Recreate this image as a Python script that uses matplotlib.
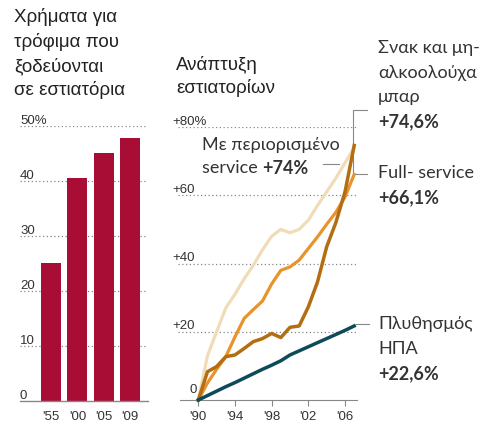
import matplotlib
matplotlib.use("Agg")
import matplotlib.pyplot as plt

# ---- data ----
bar_labels = ["'55", "'00", "'05", "'09"]
bar_values = [25.1, 40.5, 45.1, 47.8]
bar_yticks = [0, 10, 20, 30, 40, 50]
bar_ytick_labels = ["0", "10", "20", "30", "40", "50%"]

years = list(range(1990, 2008))
limited_service = [0, 13, 20, 27, 31, 35.5, 39.5, 44, 48, 50, 49, 50, 52.7, 57, 61, 65, 69.5, 74]
full_service = [0, 5, 9, 12.7, 18.5, 23.9, 26.5, 29, 34, 38, 39, 41, 44.4, 47.8, 51.5, 55, 59.5, 66.1]
snack_bars = [0, 8.3, 9.8, 12.7, 13.2, 15.1, 17.1, 18, 19.5, 18.3, 21.3, 21.7, 27.3, 34.6, 44.9, 52, 61, 74.6]
population = [0, 1.3, 2.6, 3.9, 5.1, 6.4, 7.7, 9.0, 10.2, 11.5, 13.2, 14.4, 15.6, 16.8, 18.0, 19.2, 20.4, 21.7]
line_xticks = [1990, 1994, 1998, 2002, 2006]
line_xtick_labels = ["'90", "'94", "'98", "'02", "'06"]
line_yticks = [0, 20, 40, 60, 80]
line_ytick_labels = ["0", "+20", "+40", "+60", "+80%"]

W, H = 492, 423
fig = plt.figure(figsize=(W / 100, H / 100), dpi=100)
fig.patch.set_facecolor("white")

FONT = ["Lato", "DejaVu Sans"]
TICKFONT = ["Liberation Sans", "DejaVu Sans"]
TXT = "#333333"
GRID = "#888888"
TS = 9.5

def fx(px):
    return px / W

def fy(py):
    return 1 - py / H

# ---- left bar chart ----
axL = fig.add_axes([fx(20), fy(401), (148 - 20) / W, (401 - 126) / H])
axL.bar(range(len(bar_values)), bar_values, width=0.76, color="#A80D35")
axL.set_xlim(-1.18, 3.68)
axL.set_ylim(0, 50)
for s in ["top", "right", "left"]:
    axL.spines[s].set_visible(False)
axL.spines["bottom"].set_color(GRID)
axL.spines["bottom"].set_linewidth(1.0)
axL.set_yticks([])
axL.set_xticks(range(len(bar_labels)))
axL.set_xticklabels(bar_labels, fontsize=TS, color=TXT, family=TICKFONT)
axL.tick_params(axis="x", length=0, pad=7)
for v, lab in zip(bar_yticks, bar_ytick_labels):
    if v > 0:
        axL.axhline(v, color=GRID, lw=0.9, ls=(0, (1, 2)), zorder=0)
    axL.text(0.0, v + 0.35, lab, transform=axL.get_yaxis_transform(),
             ha="left", va="baseline", fontsize=TS, color=TXT, family=TICKFONT)

for t, py in zip(["Χρήματα για", "τρόφιμα που", "ξοδεύονται", "σε εστιατόρια"],
                 [17, 42, 66, 90]):
    fig.text(fx(14), fy(py), t, ha="left", va="center", fontsize=13.5,
             color="#222222", family=TICKFONT)

# ---- right line chart ----
x0 = 1990 - (198.3 - 178) / 9.17
x1 = 1990 + (357 - 198.3) / 9.17
axR = fig.add_axes([fx(178), fy(400), (357 - 178) / W, (400 - 127) / H])
axR.set_xlim(x0, x1)
axR.set_ylim(0, 80)
for s in ["top", "right", "left"]:
    axR.spines[s].set_visible(False)
axR.spines["bottom"].set_color(GRID)
axR.spines["bottom"].set_bounds(x0 + 0.2, x1)
axR.set_yticks([])
axR.set_xticks(line_xticks)
axR.set_xticklabels(line_xtick_labels, fontsize=TS, color=TXT, family=TICKFONT)
axR.tick_params(axis="x", length=4, color=GRID, direction="out", pad=4)
for v, lab in zip(line_yticks, line_ytick_labels):
    if v > 0:
        axR.axhline(v, color=GRID, lw=0.9, ls=(0, (1, 2)), zorder=0)
        axR.text(-0.03, v + 0.7, lab, transform=axR.get_yaxis_transform(),
                 ha="left", va="baseline", fontsize=TS, color=TXT, family=TICKFONT)
    else:
        axR.text(1989.4, 2.0, lab, ha="center", va="baseline", fontsize=TS,
                 color=TXT, family=TICKFONT)

axR.plot(years, limited_service, color="#F0DCB6", lw=2.3, clip_on=False, zorder=3)
axR.plot(years, full_service, color="#E8932C", lw=2.3, clip_on=False, zorder=4)
axR.plot(years, snack_bars, color="#B46E12", lw=2.5, clip_on=False, zorder=5)
axR.plot(years, population, color="#0E4A5A", lw=2.5, clip_on=False, zorder=5)

# leader lines
axR.plot([2008.4, 2006.9, 2006.9, 2008.4], [85, 85, full_service[-1], full_service[-1]],
         color=GRID, lw=0.8, clip_on=False, zorder=2)
axR.plot([2003.6, 2005.3], [69.2, 69.2], color=GRID, lw=0.8, clip_on=False)
axR.plot([2007.2, 2008.6], [22.3, 22.3], color=GRID, lw=0.8, clip_on=False)

for t, py in zip(["Ανάπτυξη", "εστιατορίων"], [65, 88]):
    fig.text(fx(176), fy(py), t, ha="left", va="center", fontsize=13.5,
             color="#222222", family=TICKFONT)

LS = 13

def label(px, py, lines, bold_last=True):
    for i, t in enumerate(lines):
        fig.text(fx(px), fy(py + i * 24.7), t, ha="left", va="center",
                 fontsize=LS, color=TXT, family=FONT,
                 weight="bold" if (bold_last and i == len(lines) - 1) else "normal")

label(378, 48, ["Σνακ και μη-", "αλκοολούχα", "μπαρ", "+74,6%"])
label(378, 173, ["Full- service", "+66,1%"])
label(378, 324, ["Πλυθησμός", "ΗΠΑ", "+22,6%"])

fig.text(fx(202), fy(145), "Με περιορισμένο", ha="left", va="center",
         fontsize=LS, color=TXT, family=FONT)
t1 = fig.text(fx(202), fy(168), "service ", ha="left", va="center",
              fontsize=LS, color=TXT, family=FONT)
fig.canvas.draw()
bb = t1.get_window_extent()
fig.text(bb.x1 / W, fy(168), "+74%", ha="left", va="center",
         fontsize=LS, color=TXT, family=FONT, weight="bold")

fig.savefig("out.png", dpi=100, facecolor="white")
